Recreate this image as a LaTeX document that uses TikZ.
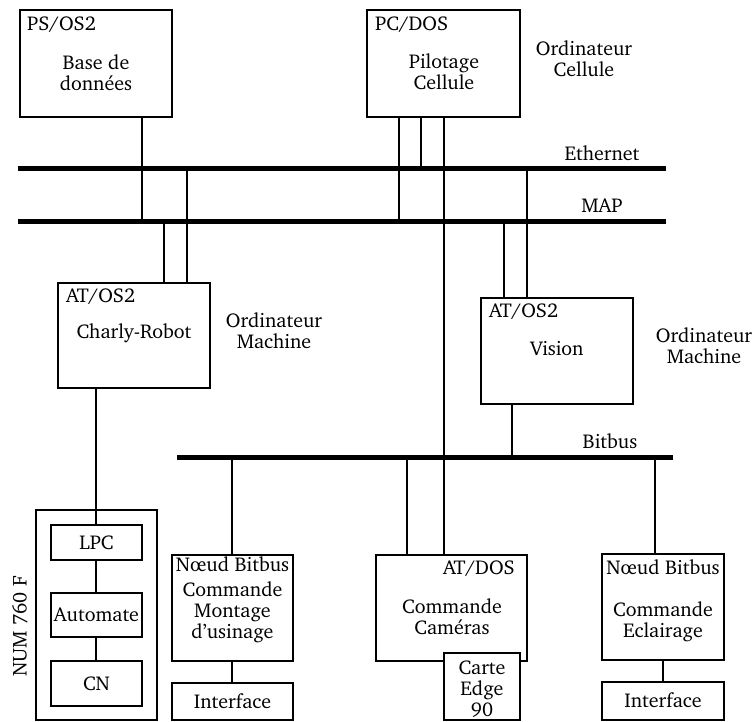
\documentclass[tikz,border=0pt]{standalone}
\usepackage[T1]{fontenc}
\usepackage{charter}
\begin{document}
\begin{tikzpicture}[x=1pt,y=-1pt,
  lbl/.style={inner sep=0pt,align=center,font=\fontsize{20}{21}\selectfont},
  box/.style={draw,line width=2pt,inner sep=0pt,fill=white},
  bus/.style={line width=5pt},
  wire/.style={line width=1.8pt}]
\useasboundingbox (0,0) rectangle (756,722);

% buses
\coordinate (ethL) at (18,169);  \coordinate (ethR) at (666,169);
\coordinate (mapL) at (18,222);  \coordinate (mapR) at (666,222);
\coordinate (bitL) at (177,457); \coordinate (bitR) at (673,457);
\draw[bus] (ethL) -- (ethR);
\draw[bus] (mapL) -- (mapR);
\draw[bus] (bitL) -- (bitR);

% computers
\node[box,minimum width=152,minimum height=107] (ps) at (96,63.5) {};
\node[box,minimum width=153,minimum height=107] (pc) at (443.5,63.5) {};
\node[box,minimum width=152,minimum height=105] (charly) at (134,335.5) {};
\node[box,minimum width=152,minimum height=106] (vision) at (557,351) {};

% NUM 760 F cabinet
\node[box,minimum width=121,minimum height=210] (num) at (96.5,615) {};
\node[box,minimum width=91,minimum height=35] (lpc) at (96.5,542.5) {};
\node[box,minimum width=91,minimum height=44] (auto) at (96.5,615) {};
\node[box,minimum width=91,minimum height=45] (cn) at (96.5,683.5) {};

% bitbus stations
\node[box,minimum width=121,minimum height=106] (nd1) at (232.5,608) {};
\node[box,minimum width=121,minimum height=37] (if1) at (232.5,701.5) {};
\node[box,minimum width=151,minimum height=106] (atdos) at (451.5,608) {};
\node[box,minimum width=122,minimum height=106] (nd2) at (663,607) {};
\node[box,minimum width=122,minimum height=38] (if2) at (663,701) {};

% links to the networks
\draw[wire] (ps.south -| 142,0) -- (142,0 |- mapL);
\draw[wire] (pc.south -| 399,0) -- (399,0 |- mapL);
\draw[wire] (pc.south -| 421,0) -- (421,0 |- ethL);
\draw[wire] (pc.south -| 444,0) -- (atdos.north -| 444,0);
\draw[wire] (charly.north -| 164,0) -- (164,0 |- mapL);
\draw[wire] (charly.north -| 187,0) -- (187,0 |- ethL);
\draw[wire] (vision.north -| 504,0) -- (504,0 |- mapL);
\draw[wire] (vision.north -| 527,0) -- (527,0 |- ethL);
\draw[wire] (vision.south -| 512,0) -- (512,0 |- bitL);
\draw[wire] (nd1.north -| 232,0) -- (232,0 |- bitL);
\draw[wire] (atdos.north -| 407,0) -- (407,0 |- bitL);
\draw[wire] (nd2.north -| 655,0) -- (655,0 |- bitL);
\draw[wire] (charly.south -| 96,0) -- (lpc.north -| 96,0);
\draw[wire] (lpc.south -| 96,0) -- (auto.north -| 96,0);
\draw[wire] (auto.south -| 96,0) -- (cn.north -| 96,0);
\draw[wire] (nd1.south -| 232,0) -- (if1.north -| 232,0);
\draw[wire] (nd2.south -| 663,0) -- (if2.north -| 663,0);

% camera board overlapping the AT/DOS box
\node[box,minimum width=76,minimum height=67] (carte) at (482,686.5) {};

% texts
\node[lbl,anchor=west] (tps) at (27,25) {PS/OS2};
\node[lbl] (tbase) at (96,72.5) {Base de\\donn\'ees};
\node[lbl,anchor=west] (tpc) at (375,25) {PC/DOS};
\node[lbl] (tpil) at (444,71.5) {Pilotage\\Cellule};
\node[lbl] (tocell) at (584,58.5) {Ordinateur\\Cellule};
\node[lbl] (teth) at (602,153) {Ethernet};
\node[lbl] (tmap) at (602,206) {MAP};
\node[lbl,anchor=west] (tat1) at (66,297) {AT/OS2};
\node[lbl] (tcharly) at (134,333) {Charly-Robot};
\node[lbl] (tom1) at (274,330.5) {Ordinateur\\Machine};
\node[lbl,anchor=west] (tat2) at (489,312) {AT/OS2};
\node[lbl] (tvision) at (557,349) {Vision};
\node[lbl] (tom2) at (704,346) {Ordinateur\\Machine};
\node[lbl] (tbit) at (610,441) {Bitbus};
\node[lbl,rotate=90] (tnum) at (20,626) {NUM 760 F};
\node[lbl] (tlpc) at (lpc) {LPC};
\node[lbl] (tauto) at (auto) {Automate};
\node[lbl] (tcn) at (cn) {CN};
\node[lbl] (tnd1) at (232.5,564) {N\oe ud Bitbus};
\node[lbl] (tcmd1) at (232.5,612) {Commande\\Montage\\d'usinage};
\node[lbl] (tif1) at (232.5,701) {Interface};
\node[lbl,anchor=east] (tatdos) at (515,569) {AT/DOS};
\node[lbl] (tcam) at (452,617) {Commande\\Cam\'eras};
\node[lbl] (tcarte) at (482,689) {Carte\\Edge\\90};
\node[lbl] (tnd2) at (663,567) {N\oe ud Bitbus};
\node[lbl] (tecl) at (663,622) {Commande\\Eclairage};
\node[lbl] (tif2) at (663,700) {Interface};
\end{tikzpicture}
\end{document}
